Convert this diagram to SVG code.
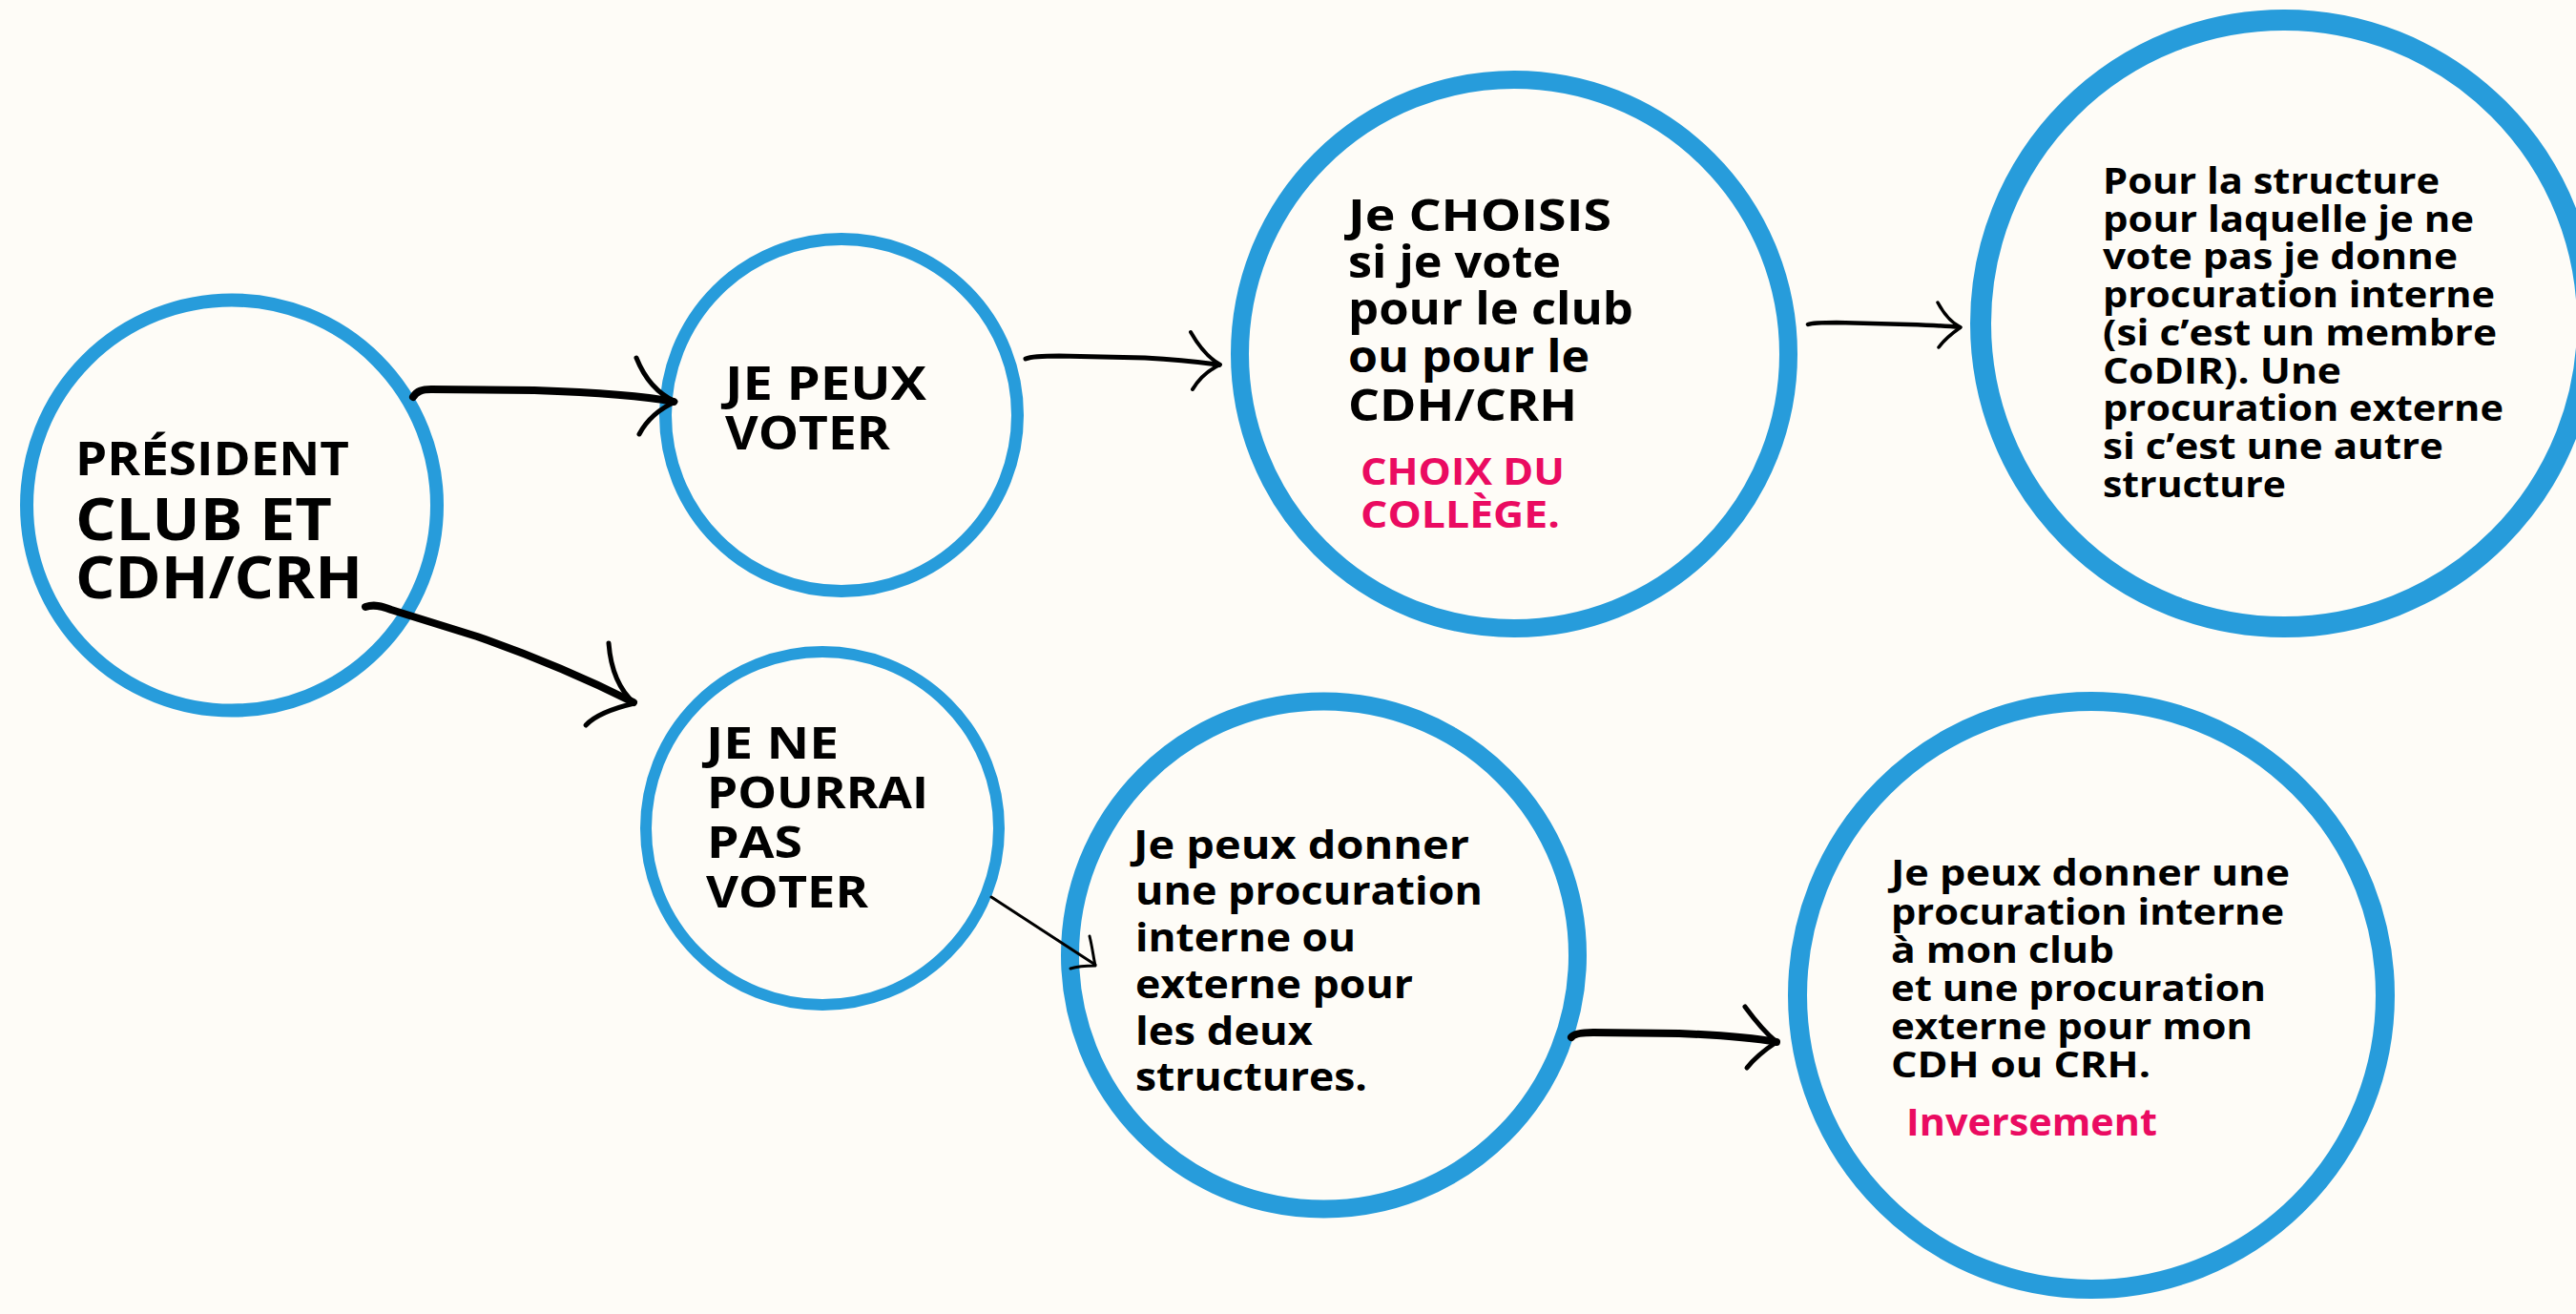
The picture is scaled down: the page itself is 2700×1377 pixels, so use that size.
<svg xmlns="http://www.w3.org/2000/svg" width="2700" height="1377" viewBox="0 0 2700 1377">
<style>
.bg{fill:#FEFCF7}
.ring{fill:none;stroke:#279CDB}
.t{font-family:"Open Sans","Liberation Sans",sans-serif;font-weight:700;fill:#000}
.p{font-family:"Open Sans","Liberation Sans",sans-serif;font-weight:700;fill:#EA0B61}
.shaft{fill:none;stroke:#000;stroke-linecap:round;stroke-linejoin:round}
.head{fill:none;stroke:#000;stroke-linecap:round;stroke-linejoin:round}
</style>
<rect class="bg" x="0" y="0" width="2700" height="1377"/>
<g id="node-president">
<circle class="ring" cx="243" cy="529.5" r="215" stroke-width="14"/>
<text class="t" lengthAdjust="spacingAndGlyphs"><tspan font-size="48" x="79" y="498" textLength="287" lengthAdjust="spacingAndGlyphs">PRÉSIDENT</tspan><tspan font-size="60" x="79" y="566" textLength="269" lengthAdjust="spacingAndGlyphs">CLUB ET</tspan><tspan font-size="60" x="79" y="627" textLength="301" lengthAdjust="spacingAndGlyphs">CDH/CRH</tspan></text>
</g>
<g id="node-je-peux-voter">
<circle class="ring" cx="882" cy="435" r="184.5" stroke-width="13"/>
<text class="t" font-size="48"><tspan x="760" y="419" textLength="211" lengthAdjust="spacingAndGlyphs">JE PEUX</tspan><tspan x="760" y="471" textLength="173" lengthAdjust="spacingAndGlyphs">VOTER</tspan></text>
</g>
<g id="node-je-ne-pourrai-pas-voter">
<circle class="ring" cx="862" cy="868" r="185" stroke-width="12"/>
<text class="t" font-size="47"><tspan x="740" y="795" textLength="139" lengthAdjust="spacingAndGlyphs">JE NE</tspan><tspan x="741" y="847" textLength="232" lengthAdjust="spacingAndGlyphs">POURRAI</tspan><tspan x="741" y="899" textLength="100" lengthAdjust="spacingAndGlyphs">PAS</tspan><tspan x="740" y="951" textLength="170" lengthAdjust="spacingAndGlyphs">VOTER</tspan></text>
</g>
<g id="node-je-choisis">
<circle class="ring" cx="1587" cy="371" r="287.5" stroke-width="19"/>
<text class="t" font-size="46"><tspan x="1413" y="241.5" textLength="276" lengthAdjust="spacingAndGlyphs">Je CHOISIS</tspan><tspan x="1413" y="291" textLength="223" lengthAdjust="spacingAndGlyphs">si je vote</tspan><tspan x="1413" y="340" textLength="299" lengthAdjust="spacingAndGlyphs">pour le club</tspan><tspan x="1413" y="390" textLength="253" lengthAdjust="spacingAndGlyphs">ou pour le</tspan><tspan x="1413" y="440.5" textLength="240" lengthAdjust="spacingAndGlyphs">CDH/CRH</tspan></text>
<text class="p" font-size="39"><tspan x="1426" y="508" textLength="214" lengthAdjust="spacingAndGlyphs">CHOIX DU</tspan><tspan x="1426" y="553" textLength="209" lengthAdjust="spacingAndGlyphs">COLLÈGE.</tspan></text>
</g>
<g id="node-pour-la-structure">
<circle class="ring" cx="2394" cy="339" r="318" stroke-width="22"/>
<text class="t" font-size="38"><tspan x="2204" y="203" textLength="353" lengthAdjust="spacingAndGlyphs">Pour la structure</tspan><tspan x="2204" y="243" textLength="389" lengthAdjust="spacingAndGlyphs">pour laquelle je ne</tspan><tspan x="2204" y="282" textLength="372" lengthAdjust="spacingAndGlyphs">vote pas je donne</tspan><tspan x="2204" y="322" textLength="411" lengthAdjust="spacingAndGlyphs">procuration interne</tspan><tspan x="2204" y="361.5" textLength="413" lengthAdjust="spacingAndGlyphs">(si c’est un membre</tspan><tspan x="2204" y="402" textLength="250" lengthAdjust="spacingAndGlyphs">CoDIR). Une</tspan><tspan x="2204" y="441" textLength="420" lengthAdjust="spacingAndGlyphs">procuration externe</tspan><tspan x="2204" y="481" textLength="357" lengthAdjust="spacingAndGlyphs">si c’est une autre</tspan><tspan x="2204" y="521" textLength="192" lengthAdjust="spacingAndGlyphs">structure</tspan></text>
</g>
<g id="node-procuration-deux-structures">
<circle class="ring" cx="1387.5" cy="1001" r="266" stroke-width="19"/>
<text class="t" font-size="42"><tspan x="1188" y="900" textLength="352" lengthAdjust="spacingAndGlyphs">Je peux donner</tspan><tspan x="1190" y="948" textLength="364" lengthAdjust="spacingAndGlyphs">une procuration</tspan><tspan x="1190" y="997" textLength="231" lengthAdjust="spacingAndGlyphs">interne ou</tspan><tspan x="1190" y="1046" textLength="291" lengthAdjust="spacingAndGlyphs">externe pour</tspan><tspan x="1190" y="1095" textLength="186" lengthAdjust="spacingAndGlyphs">les deux</tspan><tspan x="1190" y="1143" textLength="243" lengthAdjust="spacingAndGlyphs">structures.</tspan></text>
</g>
<g id="node-inversement">
<circle class="ring" cx="2192" cy="1043" r="308" stroke-width="20"/>
<text class="t" font-size="37.5"><tspan x="1982" y="927.5" textLength="418" lengthAdjust="spacingAndGlyphs">Je peux donner une</tspan><tspan x="1982" y="968.5" textLength="412" lengthAdjust="spacingAndGlyphs">procuration interne</tspan><tspan x="1982" y="1008.5" textLength="234" lengthAdjust="spacingAndGlyphs">à mon club</tspan><tspan x="1982" y="1049" textLength="393" lengthAdjust="spacingAndGlyphs">et une procuration</tspan><tspan x="1982" y="1088.5" textLength="379" lengthAdjust="spacingAndGlyphs">externe pour mon</tspan><tspan x="1982" y="1128.5" textLength="272" lengthAdjust="spacingAndGlyphs">CDH ou CRH.</tspan></text>
<text class="p" font-size="39" x="1998" y="1190" textLength="263" lengthAdjust="spacingAndGlyphs">Inversement</text>
</g>
<g id="connectors">
<path class="shaft" stroke-width="8" d="M433,416 C437,410 442,408 452,408 L560,409 C620,411 670,414 706,421"/>
<path class="head" stroke-width="5" d="M667,375 C675,395 688,412 708,421 C692,428 678,440 670,455"/>
<path class="shaft" stroke-width="5" d="M1075,376 C1080,374 1090,373 1110,373 L1200,375 C1240,377 1262,380 1278,382.5"/>
<path class="head" stroke-width="4" d="M1248,348 C1256,362 1266,375 1279,382 C1266,388 1256,398 1250,408"/>
<path class="shaft" stroke-width="8" d="M383,636 C392,633 400,635 410,639 L500,667 C560,688 620,714 664,736"/>
<path class="head" stroke-width="5" d="M638,674 C640,700 648,722 665,737 C648,741 625,748 614,760"/>
<path class="shaft" stroke-width="3" d="M1039,940 L1148,1011"/>
<path class="head" stroke-width="3" d="M1142,981 C1145,993 1146,1003 1148,1012 C1138,1012 1128,1013 1122,1015"/>
<path class="shaft" stroke-width="8" d="M1647,1087 C1650,1083 1658,1082 1670,1082 L1760,1083 C1810,1085 1840,1088 1862,1092"/>
<path class="head" stroke-width="5" d="M1829,1055 C1840,1070 1850,1082 1862,1092 C1850,1100 1838,1110 1831,1119"/>
<path class="shaft" stroke-width="4.5" d="M1895,340 C1900,338 1910,338 1925,338 L2000,340 C2030,341 2045,342 2054,343"/>
<path class="head" stroke-width="3.5" d="M2031,317 C2038,330 2045,338 2055,343 C2045,350 2037,357 2032,364"/>
</g>
</svg>
